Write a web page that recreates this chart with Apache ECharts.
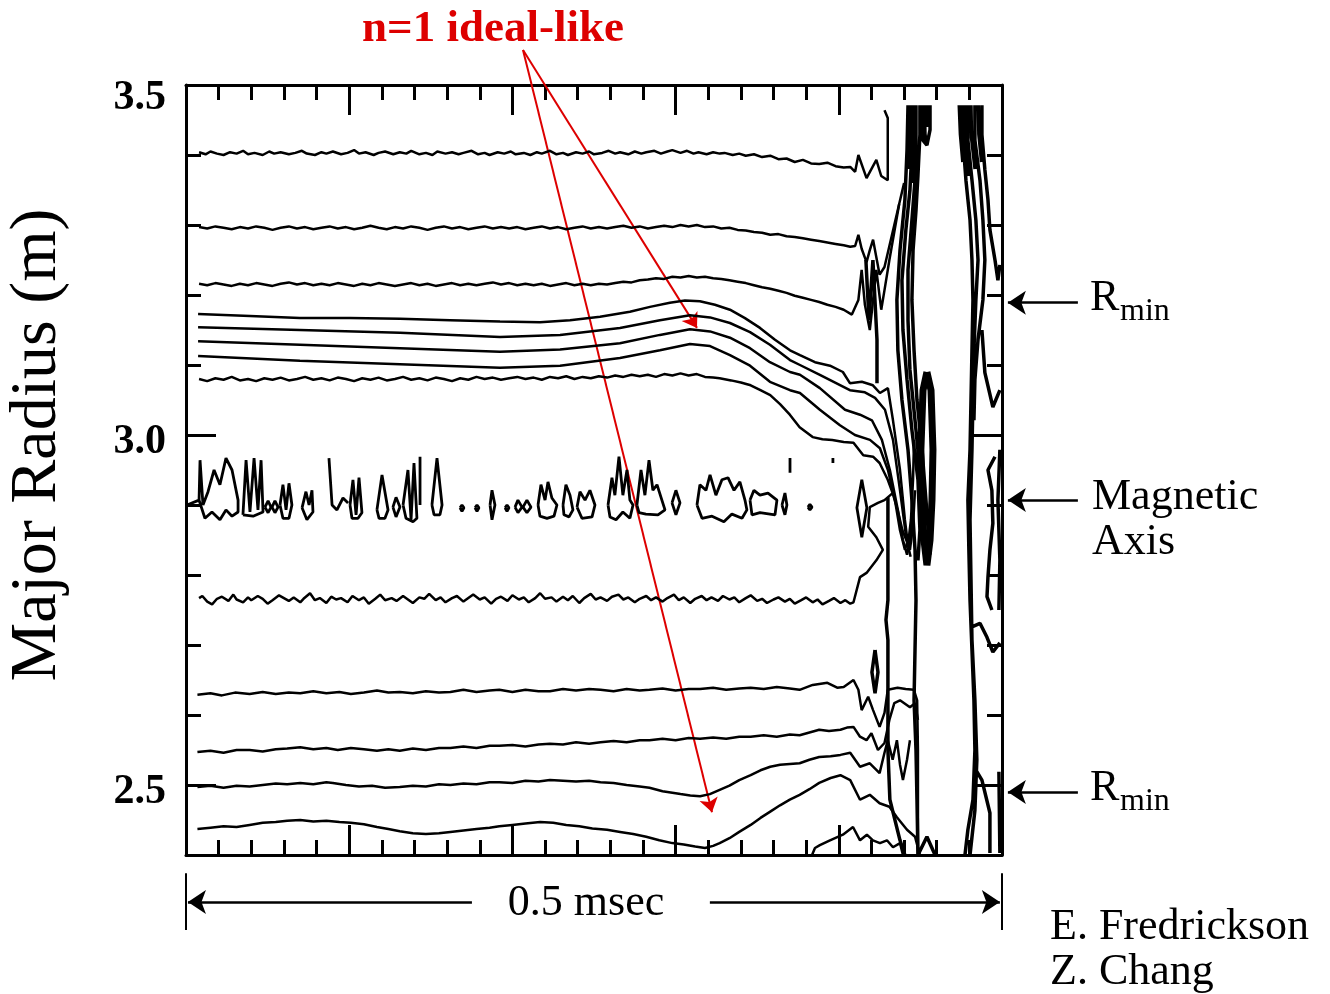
<!DOCTYPE html>
<html>
<head>
<meta charset="utf-8">
<script src="https://cdn.jsdelivr.net/npm/echarts@6/dist/echarts.min.js"></script>
<style>
  html, body { margin: 0; padding: 0; background: #fff; }
  #main { width: 1330px; height: 994px; }
</style>
</head>
<body>
<div id="main"></div>
<script>
// time in microseconds (0..500 = 0.5 msec), major radius in m
const timeRange = [0, 500];
const radiusRange = [2.4, 3.5];
const radiusLabels = [2.5, 3.0, 3.5];
const radiusMajorTicks = [2.5, 3.0];

// contour lines, top to bottom
const lineA = [[8,3.404],[12,3.401],[15,3.405],[19,3.402],[23,3.400],[27,3.404],[31,3.402],[35,3.406],[38,3.401],[42,3.403],[47,3.400],[51,3.405],[54,3.402],[58,3.404],[63,3.401],[67,3.403],[71,3.406],[74,3.402],[79,3.400],[83,3.404],[86,3.402],[90,3.405],[95,3.401],[99,3.403],[103,3.407],[106,3.402],[110,3.404],[115,3.400],[118,3.403],[122,3.405],[127,3.401],[131,3.404],[135,3.402],[138,3.406],[143,3.401],[147,3.403],[151,3.400],[154,3.405],[159,3.402],[163,3.404],[167,3.401],[170,3.403],[175,3.406],[179,3.401],[183,3.403],[186,3.400],[191,3.404],[195,3.402],[199,3.405],[202,3.401],[207,3.403],[211,3.400],[215,3.404],[218,3.402],[223,3.406],[227,3.401],[231,3.403],[234,3.400],[239,3.404],[243,3.402],[247,3.405],[250,3.401],[255,3.403],[259,3.406],[263,3.402],[266,3.404],[271,3.401],[275,3.405],[279,3.402],[282,3.404],[287,3.406],[291,3.402],[295,3.405],[298,3.407],[303,3.403],[307,3.406],[311,3.402],[314,3.404],[319,3.401],[323,3.404],[327,3.402],[330,3.403],[335,3.400],[339,3.402],[343,3.399],[348,3.401],[353,3.397],[358,3.399],[363,3.394],[368,3.395],[373,3.390],[378,3.393],[383,3.388],[388,3.387],[393,3.389],[398,3.384],[403,3.382],[407,3.383],[410,3.376],[412,3.400],[417,3.367],[423,3.393],[426,3.370],[430,3.364],[430,3.453],[428,3.464]];

const lineB = [[8,3.297],[13,3.295],[18,3.298],[23,3.296],[28,3.294],[33,3.297],[38,3.295],[43,3.298],[48,3.296],[53,3.293],[58,3.296],[63,3.298],[68,3.295],[73,3.297],[78,3.294],[83,3.296],[88,3.298],[93,3.295],[98,3.297],[103,3.294],[108,3.296],[113,3.299],[118,3.296],[123,3.294],[128,3.297],[133,3.295],[138,3.298],[143,3.296],[148,3.293],[153,3.296],[158,3.298],[163,3.295],[168,3.297],[173,3.294],[178,3.296],[183,3.298],[188,3.295],[193,3.297],[198,3.295],[203,3.297],[208,3.294],[213,3.296],[218,3.298],[223,3.295],[228,3.297],[233,3.294],[238,3.296],[243,3.298],[248,3.295],[253,3.297],[258,3.295],[263,3.297],[268,3.299],[273,3.296],[278,3.298],[283,3.295],[288,3.297],[293,3.299],[298,3.297],[303,3.300],[308,3.298],[313,3.300],[318,3.297],[323,3.298],[328,3.295],[333,3.296],[338,3.293],[343,3.292],[348,3.290],[353,3.289],[358,3.286],[363,3.287],[368,3.284],[373,3.283],[378,3.281],[383,3.279],[388,3.277],[393,3.275],[398,3.273],[403,3.271],[407,3.269],[410,3.270],[412,3.286],[414,3.266],[417,3.247],[419,3.264],[421,3.279],[423,3.254],[425,3.229],[428,3.240],[431,3.270],[434,3.300],[437,3.330],[440,3.360]];

const lineC = [[8,3.216],[13,3.214],[18,3.217],[23,3.215],[28,3.213],[33,3.216],[38,3.214],[43,3.217],[48,3.215],[53,3.213],[58,3.216],[63,3.218],[68,3.215],[73,3.217],[78,3.214],[83,3.216],[88,3.214],[93,3.217],[98,3.215],[103,3.213],[108,3.216],[113,3.214],[118,3.217],[123,3.215],[128,3.213],[133,3.215],[138,3.217],[143,3.214],[148,3.216],[153,3.213],[158,3.215],[163,3.217],[168,3.214],[173,3.216],[178,3.214],[183,3.216],[188,3.218],[193,3.215],[198,3.217],[203,3.214],[208,3.216],[213,3.214],[218,3.216],[223,3.213],[228,3.215],[233,3.217],[238,3.214],[243,3.216],[248,3.214],[253,3.216],[258,3.215],[263,3.217],[268,3.219],[273,3.218],[278,3.221],[283,3.222],[288,3.224],[293,3.223],[298,3.226],[303,3.225],[308,3.227],[313,3.225],[318,3.226],[323,3.224],[328,3.223],[333,3.221],[338,3.219],[343,3.217],[348,3.214],[353,3.211],[358,3.209],[363,3.206],[368,3.203],[373,3.199],[378,3.196],[383,3.193],[388,3.190],[393,3.186],[398,3.183],[403,3.179],[408,3.172],[412,3.193],[414,3.236],[416,3.186],[419,3.150],[421,3.193],[423,3.236],[426,3.179],[428,3.207],[431,3.250],[434,3.290],[437,3.330]];

// n=1 ideal-like bump group
const lineD1 = [[7.4,3.173],[39.2,3.170],[69.8,3.167],[100.5,3.167],[131.1,3.166],[161.8,3.164],[192.4,3.162],[216.9,3.161],[235.3,3.164],[253.7,3.169],[272.0,3.176],[284.3,3.183],[296.5,3.189],[305.7,3.192],[314.9,3.191],[324.1,3.186],[333.3,3.179],[342.5,3.167],[351.7,3.153],[360.9,3.136],[370.1,3.121],[376.2,3.114],[385.4,3.104],[394.6,3.099],[402.5,3.090],[406.8,3.074],[414.1,3.076],[420.9,3.071],[425.2,3.060],[430.1,3.067],[433.2,3.021],[437.5,2.950],[440.5,2.879],[442.4,2.843],[444.2,2.879],[445.5,2.936],[446.1,2.993]];
const lineD2 = [[7.4,3.154],[69.8,3.150],[131.1,3.146],[192.4,3.140],[229.2,3.143],[265.9,3.153],[290.4,3.164],[308.8,3.171],[321.1,3.168],[333.3,3.160],[345.6,3.147],[357.8,3.129],[370.1,3.107],[376.2,3.100],[388.4,3.086],[406.8,3.064],[416.0,3.061],[422.2,3.053],[428.3,3.036],[433.2,2.993],[437.5,2.921],[441.1,2.857],[443.6,2.836],[445.5,2.871],[446.7,2.921]];
const lineD3 = [[7.4,3.134],[69.8,3.129],[131.1,3.124],[192.4,3.119],[229.2,3.122],[265.9,3.131],[290.4,3.143],[308.8,3.151],[321.1,3.148],[333.3,3.139],[345.6,3.124],[357.8,3.104],[370.1,3.090],[376.2,3.086],[388.4,3.067],[403.8,3.036],[413.0,3.029],[420.3,3.021],[426.4,2.993],[431.3,2.950],[436.2,2.893],[439.3,2.850],[441.8,2.829],[443.6,2.850],[445.5,2.893]];
const lineD4 = [[7.4,3.113],[69.8,3.106],[131.1,3.101],[192.4,3.096],[229.2,3.099],[265.9,3.110],[290.4,3.121],[308.8,3.130],[321.1,3.127],[333.3,3.114],[345.6,3.099],[357.8,3.076],[370.1,3.064],[376.2,3.060],[388.4,3.036],[400.7,3.014],[409.9,3.000],[419.1,2.993],[425.2,2.981],[430.1,2.950],[434.4,2.907],[437.5,2.864],[440.5,2.836],[442.4,2.850]];
const lineD5 = [[8,3.080],[13,3.077],[18,3.081],[23,3.079],[28,3.083],[33,3.078],[38,3.080],[43,3.077],[48,3.081],[53,3.079],[58,3.082],[63,3.078],[68,3.080],[73,3.083],[78,3.079],[83,3.081],[88,3.078],[93,3.082],[98,3.080],[103,3.077],[108,3.081],[113,3.079],[118,3.082],[123,3.078],[128,3.080],[133,3.083],[138,3.079],[143,3.081],[148,3.078],[153,3.082],[158,3.080],[163,3.077],[168,3.081],[173,3.079],[178,3.083],[183,3.080],[188,3.082],[193,3.079],[198,3.081],[203,3.083],[208,3.080],[213,3.082],[218,3.079],[223,3.083],[228,3.081],[233,3.084],[238,3.080],[243,3.083],[248,3.081],[253,3.084],[258,3.082],[263,3.085],[268,3.083],[273,3.086],[278,3.084],[283,3.086],[288,3.083],[293,3.087],[298,3.085],[303,3.088],[308,3.085],[313,3.087],[318,3.083],[323,3.082],[327,3.081],[334,3.078],[340,3.075],[346,3.071],[352,3.064],[358,3.057],[364,3.044],[370,3.029],[376,3.011],[384,2.997],[390,2.994],[396,2.993],[403,2.990],[409,2.989],[415,2.971],[421,2.969],[425,2.960],[430,2.936],[433,2.917],[436,2.893],[439,2.864],[442,2.846],[444,2.826]];

// noisy islands around the magnetic axis
const islands = [
  [[0.6,2.9],[8.0,2.907],[8.6,2.964],[10.4,2.9],[13.5,2.919],[17.2,2.95],[20.8,2.929],[24.5,2.967],[28.2,2.95],[31.9,2.907],[31.9,2.89],[28.2,2.884],[24.5,2.893],[20.8,2.879],[15.9,2.89],[11.6,2.881],[8.0,2.907]],
  [[34.9,2.886],[36.8,2.964],[39.2,2.89],[41.7,2.967],[44.1,2.893],[46.0,2.964],[47.2,2.89],[41.1,2.884],[34.9,2.886]],
  [[48.4,2.897],[50.3,2.906],[52.1,2.897],[50.3,2.889],[48.4,2.897]],
  [[52.7,2.897],[54.5,2.906],[56.4,2.897],[54.5,2.889],[52.7,2.897]],
  [[57.6,2.9],[59.4,2.929],[61.3,2.893],[63.1,2.931],[64.9,2.9],[63.1,2.881],[59.4,2.881],[57.6,2.9]],
  [[71.1,2.896],[73.5,2.919],[75.4,2.9],[77.2,2.921],[77.8,2.89],[74.1,2.879],[71.1,2.896]],
  [[87.6,2.967],[89.5,2.9],[92.5,2.893],[96.2,2.91],[99.3,2.903]],
  [[100.5,2.9],[102.3,2.936],[104.2,2.886],[106.0,2.939],[107.8,2.889],[105.4,2.881],[101.7,2.881],[100.5,2.9]],
  [[117.0,2.893],[120.1,2.943],[123.8,2.893],[121.9,2.881],[118.3,2.881],[117.0,2.893]],
  [[126.8,2.897],[128.7,2.911],[131.1,2.897],[128.7,2.883],[126.8,2.897]],
  [[133.0,2.9],[136.0,2.95],[137.9,2.879],[139.7,2.96],[141.5,2.881],[139.1,2.876],[134.8,2.881],[133.0,2.9]],
  [[143.4,2.969],[143.4,2.9]],
  [[150.7,2.9],[153.8,2.967],[156.9,2.9],[155.6,2.886],[152.0,2.886],[150.7,2.9]],
  [[167.9,2.896],[169.1,2.9],[170.3,2.896],[169.1,2.891],[167.9,2.896]],
  [[177.1,2.896],[178.3,2.9],[179.5,2.896],[178.3,2.891],[177.1,2.896]],
  [[186.3,2.9],[187.5,2.921],[189.3,2.9],[187.5,2.879],[186.3,2.9]],
  [[195.5,2.896],[196.7,2.9],[197.9,2.896],[196.7,2.891],[195.5,2.896]],
  [[201.6,2.897],[203.4,2.907],[205.9,2.897],[203.4,2.889],[201.6,2.897]],
  [[206.5,2.897],[208.9,2.907],[211.4,2.897],[208.9,2.889],[206.5,2.897]],
  [[215.7,2.9],[217.5,2.929],[220.0,2.907],[221.8,2.933],[224.2,2.91],[227.3,2.9],[225.5,2.884],[221.2,2.881],[216.9,2.884],[215.7,2.9]],
  [[231.0,2.9],[232.8,2.929],[235.3,2.914],[237.1,2.893],[234.7,2.883],[231.6,2.886],[231.0,2.9]],
  [[239.6,2.897],[241.4,2.919],[244.5,2.907],[247.5,2.921],[250.6,2.9],[248.8,2.883],[242.6,2.881],[239.6,2.897]],
  [[258.6,2.9],[261.0,2.939],[262.8,2.914],[265.3,2.969],[267.7,2.914],[270.2,2.95],[272.0,2.907],[273.9,2.9],[272.0,2.881],[267.7,2.89],[263.5,2.879],[259.8,2.883],[258.6,2.9]],
  [[276.3,2.9],[278.8,2.95],[281.2,2.914],[283.7,2.964],[286.1,2.921],[288.6,2.929],[291.6,2.907],[293.5,2.893],[289.2,2.886],[281.8,2.887],[277.6,2.889],[276.3,2.9]],
  [[297.8,2.903],[300.2,2.921],[302.7,2.903],[300.2,2.886],[297.8,2.903]],
  [[313.1,2.9],[314.9,2.929],[318.6,2.921],[321.1,2.943],[324.7,2.914],[328.4,2.936],[332.1,2.939],[335.8,2.921],[339.4,2.933],[342.5,2.907],[343.7,2.893],[340.7,2.881],[334.5,2.887],[329.6,2.876],[322.3,2.884],[316.2,2.881],[313.1,2.9]],
  [[345.6,2.907],[348.0,2.921],[351.7,2.914],[356.6,2.917],[362.1,2.907],[360.9,2.886],[351.7,2.889],[346.8,2.886],[345.6,2.907]],
  [[365.2,2.9],[367.0,2.917],[368.2,2.9],[367.0,2.886],[365.2,2.9]],
  [[370.1,2.967],[370.1,2.946]],
  [[381.1,2.897],[382.3,2.901],[383.6,2.897],[382.3,2.893],[381.1,2.897]],
  [[396.4,2.967],[396.4,2.96]],
  [[414.1,2.936],[417.2,2.896],[414.1,2.854],[411.1,2.896],[414.1,2.936]]
];

const lineE = [[8,2.767],[10,2.770],[13,2.762],[16,2.758],[19,2.766],[22,2.769],[26,2.763],[29,2.772],[31,2.765],[35,2.761],[38,2.768],[40,2.764],[44,2.770],[47,2.766],[50,2.759],[53,2.764],[57,2.771],[60,2.767],[63,2.763],[66,2.768],[70,2.761],[72,2.766],[76,2.774],[79,2.764],[82,2.767],[86,2.760],[89,2.769],[92,2.765],[95,2.767],[99,2.761],[102,2.770],[106,2.764],[109,2.768],[112,2.759],[116,2.766],[119,2.772],[122,2.764],[126,2.767],[129,2.763],[133,2.770],[136,2.765],[139,2.760],[143,2.768],[146,2.766],[149,2.773],[153,2.764],[156,2.768],[159,2.761],[163,2.767],[166,2.770],[170,2.762],[173,2.767],[176,2.772],[180,2.765],[183,2.768],[187,2.759],[190,2.766],[193,2.769],[197,2.763],[200,2.771],[204,2.765],[207,2.768],[210,2.761],[214,2.767],[217,2.774],[220,2.766],[224,2.768],[227,2.762],[231,2.769],[234,2.764],[237,2.770],[241,2.760],[244,2.767],[248,2.773],[251,2.765],[254,2.768],[258,2.763],[261,2.769],[265,2.772],[268,2.765],[271,2.768],[275,2.761],[278,2.766],[282,2.770],[285,2.764],[288,2.768],[292,2.762],[295,2.767],[299,2.772],[302,2.764],[305,2.768],[309,2.760],[312,2.766],[316,2.770],[319,2.764],[322,2.768],[326,2.763],[329,2.770],[333,2.765],[336,2.768],[339,2.761],[343,2.767],[346,2.771],[350,2.763],[353,2.766],[356,2.760],[360,2.765],[363,2.768],[367,2.762],[370,2.766],[373,2.759],[377,2.764],[380,2.768],[384,2.761],[387,2.765],[390,2.758],[394,2.763],[397,2.767],[401,2.760],[404,2.764],[407,2.759],[409,2.761],[413,2.797],[417,2.803],[423,2.821],[427,2.836],[423,2.854],[418,2.869],[419,2.897],[424,2.903],[428,2.907],[433,2.917]];

const lineF = [[7,2.629],[15,2.631],[22,2.628],[30,2.632],[39,2.630],[47,2.633],[55,2.630],[63,2.632],[70,2.631],[78,2.634],[86,2.631],[94,2.633],[101,2.630],[109,2.632],[117,2.635],[124,2.632],[131,2.633],[139,2.631],[147,2.634],[155,2.632],[162,2.633],[170,2.636],[178,2.633],[186,2.635],[192,2.636],[200,2.633],[208,2.636],[216,2.634],[223,2.634],[231,2.637],[239,2.635],[247,2.637],[254,2.636],[262,2.634],[270,2.637],[278,2.635],[284,2.636],[292,2.638],[300,2.635],[308,2.637],[315,2.637],[323,2.639],[331,2.636],[339,2.638],[346,2.639],[354,2.637],[362,2.640],[370,2.638],[376,2.636],[384,2.643],[393,2.646],[399,2.639],[403,2.640],[409,2.650],[412,2.636],[414,2.607],[418,2.626],[421,2.607],[425,2.583],[428,2.603],[430,2.636],[436,2.639],[441,2.637],[446,2.636],[448,2.621],[448.5,2.55],[448.5,2.479],[448.5,2.4]];

const lineG = [[7,2.547],[15,2.549],[23,2.546],[31,2.550],[39,2.550],[47,2.548],[55,2.551],[62,2.552],[70,2.554],[78,2.551],[86,2.553],[93,2.550],[101,2.553],[109,2.551],[117,2.549],[124,2.551],[131,2.549],[139,2.552],[147,2.550],[155,2.553],[162,2.553],[170,2.555],[178,2.553],[186,2.556],[192,2.556],[200,2.557],[208,2.555],[216,2.558],[223,2.559],[231,2.558],[239,2.561],[247,2.559],[254,2.561],[262,2.563],[270,2.561],[278,2.564],[284,2.564],[292,2.566],[300,2.564],[308,2.567],[315,2.566],[323,2.568],[331,2.566],[339,2.569],[346,2.569],[354,2.571],[362,2.569],[370,2.572],[376,2.571],[382,2.575],[388,2.579],[394,2.577],[401,2.579],[405,2.582],[409,2.583],[413,2.569],[417,2.564],[420,2.574],[424,2.550],[428,2.560],[431,2.593],[434,2.617],[437.5,2.621],[443.6,2.611],[446.7,2.617],[448.5,2.593]];

const lineH = [[7,2.497],[15,2.499],[23,2.496],[31,2.499],[39,2.498],[47,2.500],[55,2.502],[62,2.501],[70,2.503],[78,2.501],[86,2.504],[90,2.503],[98,2.500],[106,2.498],[114,2.499],[122,2.496],[131,2.497],[139,2.499],[147,2.498],[155,2.501],[162,2.500],[170,2.502],[178,2.501],[186,2.504],[192,2.504],[200,2.503],[208,2.506],[216,2.505],[223,2.507],[231,2.506],[239,2.505],[247,2.506],[254,2.504],[262,2.503],[270,2.500],[278,2.498],[284,2.496],[292,2.491],[298,2.489],[303,2.487],[309,2.485],[315,2.484],[321,2.487],[327,2.493],[333,2.499],[339,2.507],[346,2.514],[352,2.521],[358,2.526],[364,2.529],[370,2.530],[376,2.531],[382,2.536],[388,2.540],[395,2.541],[401,2.543],[407,2.546],[413,2.526],[419,2.531],[425,2.517],[428,2.546],[430,2.564],[433,2.536],[435.6,2.564],[437.5,2.529],[439.3,2.507],[441.8,2.536],[443.6,2.564]];

const lineI = [[7,2.437],[15,2.439],[23,2.441],[31,2.440],[39,2.443],[47,2.446],[55,2.447],[62,2.449],[70,2.450],[78,2.448],[86,2.449],[94,2.447],[101,2.446],[109,2.444],[117,2.440],[124,2.437],[131,2.434],[139,2.431],[147,2.430],[155,2.431],[162,2.433],[170,2.435],[178,2.437],[186,2.439],[192,2.441],[200,2.443],[208,2.445],[217,2.447],[225,2.446],[233,2.443],[241,2.441],[249,2.438],[258,2.436],[266,2.433],[274,2.430],[282,2.426],[290,2.421],[298,2.417],[305,2.415],[312,2.412],[318,2.410],[323,2.413],[327,2.417],[333,2.424],[339,2.433],[346,2.443],[352,2.453],[358,2.462],[364,2.471],[370,2.479],[376,2.486],[382,2.494],[388,2.503],[395,2.510],[401,2.514],[407,2.507],[413,2.479],[419,2.486],[425,2.474],[431,2.469],[435.6,2.454],[441.8,2.436],[446.7,2.426],[448.5,2.41],[449.7,2.4]];

const lineJ = [[383.6,2.4],[385.4,2.41],[388.4,2.414],[394.6,2.421],[402.5,2.429],[408.7,2.44],[413,2.421],[417.2,2.429],[420.9,2.421],[425.2,2.417],[429.5,2.421],[433.2,2.411],[437.5,2.417],[439.3,2.4]];

// crash region near 430-500 us
const crashLines = [
  [[416.6,3.25],[418.5,3.164],[420.9,3.25],[423.4,3.136],[423.4,3.074]],
  [[430.1,2.911],[430.1,2.764],[428.9,2.736],[430.1,2.707],[430.1,2.55],[431.3,2.479],[437.5,2.421],[440.5,2.4]],
  [[422.2,2.693],[424.0,2.661],[422.2,2.631],[420.3,2.661],[422.2,2.693]],
  [[448.5,2.4],[454.0,2.426],[459.0,2.4]],
  [[442.4,3.471],[441.8,3.407],[440.5,3.336],[437.5,3.264],[435.6,3.193],[436.2,3.121],[438.7,3.05],[442.4,2.979],[444.8,2.907],[446.7,2.836],[447.3,2.764],[446.7,2.693],[446.1,2.621],[447.3,2.55],[447.9,2.479],[448.5,2.4]],
  [[444.8,3.471],[444.8,3.407],[443.6,3.35],[441.1,3.293],[438.7,3.221],[439.3,3.15],[441.8,3.079],[444.8,3.007],[448.5,2.936],[449.7,2.864],[448.5,2.821]],
  [[447.3,3.471],[447.3,3.421],[446.7,3.364],[444.8,3.307],[442.4,3.236],[442.4,3.164],[443.6,3.093],[446.7,3.021],[449.7,2.95],[452.2,2.879],[452.8,2.821]],
  [[449.7,3.471],[449.7,3.429],[448.5,3.371],[447.3,3.321],[445.5,3.264],[444.8,3.193],[446.1,3.121],[447.9,3.05],[451.0,2.979],[453.4,2.907],[455.9,2.829]],
  [[450.9,3.471],[451.6,3.421],[454.0,3.414],[455.9,3.436],[455.9,3.471]],
  [[443.6,3.471],[443.2,3.420],[442.6,3.380]],
  [[446.0,3.471],[445.8,3.400],[445.0,3.360]],
  [[452.5,3.471],[452.8,3.430],[453.5,3.418]],
  [[454.5,3.471],[454.8,3.440]],
  [[475.4,3.471],[476.1,3.421],[477.9,3.364],[480.4,3.307],[481.6,3.25],[482.2,3.193],[481.6,3.121],[481.0,3.05],[480.4,2.979],[479.1,2.907],[479.7,2.836],[480.4,2.764],[481.6,2.693],[482.8,2.621],[483.4,2.55],[482.2,2.479],[479.1,2.436],[477.3,2.4]],
  [[479.1,3.471],[479.1,3.421],[481.6,3.364],[484.0,3.307],[485.3,3.25],[484.0,3.193],[482.8,3.121],[482.2,3.05],[481.6,2.979],[480.4,2.879],[481.0,2.793],[481.6,2.707],[483.4,2.621],[484.6,2.536],[483.4,2.464],[480.4,2.4]],
  [[483.4,3.471],[483.4,3.421],[486.5,3.364],[488.3,3.307],[489.5,3.25],[488.3,3.193],[485.3,3.136],[483.4,3.079],[482.8,3.021]],
  [[487.7,3.471],[487.7,3.429],[489.5,3.379],[491.4,3.336],[492.6,3.293],[495.7,3.25],[497.5,3.221],[498.7,3.243]],
  [[473.8,3.471],[474.5,3.430],[476.0,3.390]],
  [[477.3,3.471],[477.6,3.420],[479.5,3.370]],
  [[481.0,3.471],[481.3,3.425],[483.5,3.380]],
  [[485.5,3.471],[485.8,3.430],[487.5,3.390]],
  [[487.7,3.15],[489.5,3.089],[494.4,3.04],[498.7,3.064]],
  [[495.7,2.969],[491.4,2.95],[493.8,2.921],[494.4,2.874],[492.6,2.836],[491.4,2.797],[490.8,2.769],[493.8,2.75]],
  [[498.7,2.979],[497.5,2.907],[498.7,2.821],[498.1,2.75]],
  [[481.6,2.726],[486.5,2.731],[490.8,2.711],[494.4,2.69],[498.7,2.703]],
  [[484.6,2.519],[487.7,2.507],[492.6,2.46],[492.6,2.403]],
  [[498.1,2.519],[498.7,2.403]]
];
const crashOval = [[454.0,3.09],[456.5,3.064],[457.7,2.979],[457.1,2.907],[455.9,2.85],[454.0,2.814],[452.2,2.85],[450.9,2.907],[450.3,2.979],[451.6,3.064],[454.0,3.09]];

// annotations (data coords)
const modeArrowStart = [206.5, 3.55];
const modeArrowEnds = [[313.1, 3.153], [322.3, 2.461]];
const markerRadii = [3.189, 2.907, 2.49];
const markerArrowX = [546.5, 503.6];
const scaleBarR = 2.333;
const scaleBarArrows = [[175.2, 1.2], [321.0, 498.7]];
const scaleBarEdges = [0, 500];
const scaleBarEdgeR = [2.374, 2.293];

function joinParts(parts) {
  let out = [];
  parts.forEach(function (p, i) {
    if (i > 0) out.push([null, null]);
    out = out.concat(p);
  });
  return out;
}

function contour(data, w) {
  return {
    type: 'line',
    data: data,
    symbol: 'none',
    showSymbol: false,
    connectNulls: false,
    lineStyle: { color: '#000', width: w || 2.5 },
    animation: false,
    silent: true
  };
}

const serif = "'Liberation Serif', 'DejaVu Serif', serif";
const tickStyle = { color: '#000', width: 3 };
const labelFont = { fontFamily: serif, fontWeight: 'bold', fontSize: 42, color: '#000' };

function xAxisDef(pos) {
  return {
    type: 'value', position: pos, min: timeRange[0], max: timeRange[1], interval: 100,
    axisLine: { lineStyle: tickStyle },
    axisTick: { inside: true, length: 30, lineStyle: tickStyle },
    minorTick: { show: true, splitNumber: 5, length: 15, lineStyle: tickStyle },
    axisLabel: { show: false },
    splitLine: { show: false }
  };
}

function yAxisMinor(pos, labels) {
  return {
    type: 'value', position: pos, min: radiusRange[0], max: radiusRange[1], interval: 0.1,
    axisLine: { lineStyle: tickStyle },
    axisTick: { inside: true, length: 15, lineStyle: tickStyle },
    axisLabel: labels ? Object.assign({
      customValues: radiusLabels,
      formatter: function (v) { return (v === radiusRange[1] ? '{t|' : '{n|') + v.toFixed(1) + '}'; },
      margin: 20,
      rich: {
        n: Object.assign({ padding: [14, 0, 0, 0] }, labelFont),
        t: Object.assign({ padding: [26, 0, 0, 0] }, labelFont)
      }
    }, labelFont) : { show: false },
    splitLine: { show: false }
  };
}

function yAxisMajor(pos) {
  return {
    type: 'value', position: pos, min: radiusRange[0], max: radiusRange[1],
    axisLine: { show: false },
    axisTick: { inside: true, length: 30, customValues: radiusMajorTicks, lineStyle: tickStyle },
    axisLabel: { show: false },
    splitLine: { show: false }
  };
}

const series = [
  contour(lineA), contour(lineB), contour(lineC),
  contour(lineD1), contour(lineD2), contour(lineD3), contour(lineD4), contour(lineD5),
  contour(joinParts(islands), 2.8),
  contour(lineE), contour(lineF), contour(lineG), contour(lineH), contour(lineI), contour(lineJ),
  contour(joinParts(crashLines), 3.5),
  contour(crashOval, 7),
  {
    type: 'lines', coordinateSystem: 'cartesian2d', clip: false, silent: true, animation: false,
    symbol: ['none', 'arrow'], symbolSize: 14,
    lineStyle: { color: '#dd0000', width: 2, opacity: 1 },
    data: modeArrowEnds.map(function (e) { return { coords: [modeArrowStart, e] }; })
  },
  {
    type: 'lines', coordinateSystem: 'cartesian2d', clip: false, silent: true, animation: false,
    symbol: ['none', 'arrow'], symbolSize: 18,
    lineStyle: { color: '#000', width: 2.5, opacity: 1 },
    data: markerRadii.map(function (r) { return { coords: [[markerArrowX[0], r], [markerArrowX[1], r]] }; })
      .concat(scaleBarArrows.map(function (a) { return { coords: [[a[0], scaleBarR], [a[1], scaleBarR]] }; }))
  },
  {
    type: 'lines', coordinateSystem: 'cartesian2d', clip: false, silent: true, animation: false,
    symbol: ['none', 'none'],
    lineStyle: { color: '#000', width: 2, opacity: 1 },
    data: scaleBarEdges.map(function (t) { return { coords: [[t, scaleBarEdgeR[0]], [t, scaleBarEdgeR[1]]] }; })
  }
];

function txt(text, x, y, size, opts) {
  opts = opts || {};
  return {
    type: 'text', x: x, y: y, rotation: opts.rotation || 0, silent: true,
    style: {
      text: text, fill: opts.color || '#000',
      font: (opts.weight || 'normal') + ' ' + size + 'px ' + serif,
      align: opts.align || 'left', verticalAlign: 'middle',
      textAlign: opts.align || 'left', textVerticalAlign: 'middle'
    }
  };
}

const myChart = echarts.init(document.getElementById('main'), null, { renderer: 'canvas' });
myChart.setOption({
  backgroundColor: '#fff',
  animation: false,
  grid: { left: 186, top: 85, width: 816, height: 770, containLabel: false },
  xAxis: [xAxisDef('bottom'), xAxisDef('top')],
  yAxis: [yAxisMinor('left', true), yAxisMajor('left'), yAxisMinor('right', false), yAxisMajor('right')],
  series: series,
  graphic: [
    txt('n=1 ideal-like', 493, 29, 45, { weight: 'bold', color: '#dd0000', align: 'center' }),
    txt('Major Radius (m)', 38, 445, 66, { rotation: Math.PI / 2, align: 'center' }),
    txt('R', 1090, 298, 44),
    txt('min', 1120, 312, 32),
    txt('Magnetic', 1092, 497, 44),
    txt('Axis', 1092, 542, 44),
    txt('R', 1090, 788, 44),
    txt('min', 1120, 802, 32),
    txt('0.5 msec', 586, 903, 44, { align: 'center' }),
    txt('E. Fredrickson', 1050, 927, 44),
    txt('Z. Chang', 1050, 972, 44)
  ]
});

window.addEventListener('resize', function () {
  myChart.resize();
});
</script>
</body>
</html>
